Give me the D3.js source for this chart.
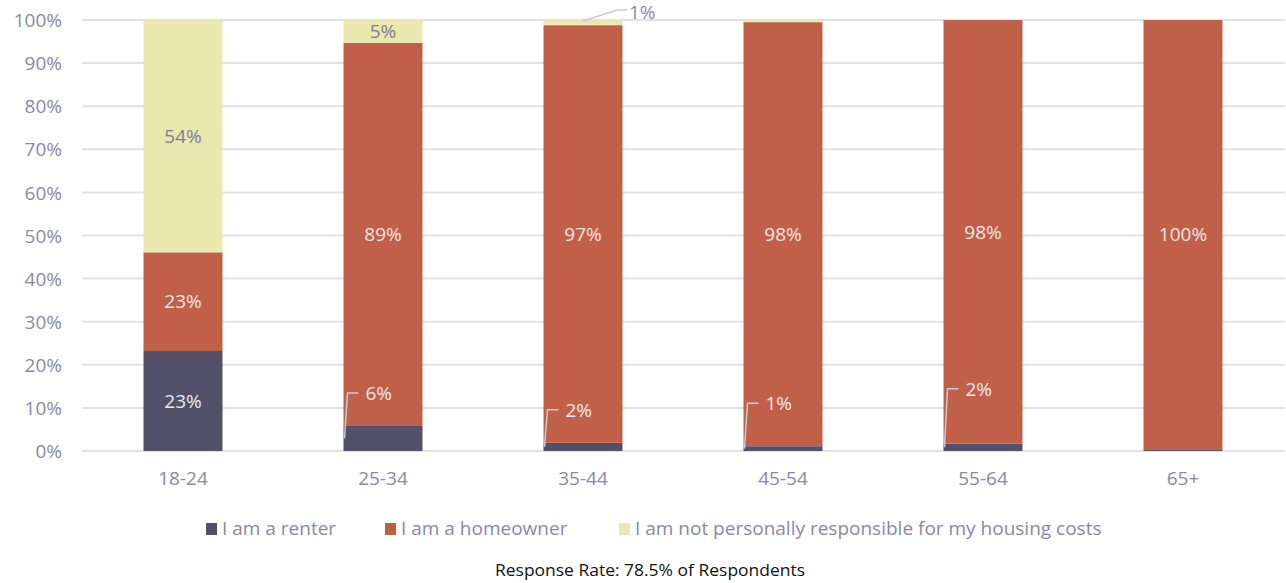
<!DOCTYPE html>
<html>
<head>
<meta charset="utf-8">
<script src="https://cdn.jsdelivr.net/npm/d3@7"></script>
<style>
  html, body { margin: 0; padding: 0; background: #ffffff; }
  svg { display: block; }
  text { font-family: "Open Sans", sans-serif; }
</style>
</head>
<body>
<svg id="chart" width="1286" height="583"></svg>
<script>
// ---- data ----
const categories = ["18-24", "25-34", "35-44", "45-54", "55-64", "65+"];
const seriesNames = ["I am a renter", "I am a homeowner", "I am not personally responsible for my housing costs"];
const renter = [23.2, 5.8, 1.9, 1.1, 1.7, 0.4];
const homeowner = [22.9, 88.9, 96.9, 98.4, 98.3, 99.6];
const notResponsible = [53.9, 5.3, 1.2, 0.5, 0.0, 0.0];
const yTicks = [0, 10, 20, 30, 40, 50, 60, 70, 80, 90, 100];
const footnote = "Response Rate: 78.5% of Respondents";

// ---- style ----
const colors = ["#525169", "#c06048", "#eae8ae"];
const labelColors = ["#e9e8f1", "#f3e6e2", "#7f7c9d"];
const axisColor = "#8a88a8";
const gridColor = "#e2e1ea";
const leaderColor = "#c9c8d6";
// leader-line label offsets (vertical lift above segment top) for small renter segments
const renterLeaderLift = [null, 33, 33, 43, 55, null];

const svg = d3.select("#chart");
const plot = { left: 83, right: 1283, top: 20, bottom: 451 };

const x = d3.scaleBand().domain(categories).range([plot.left, plot.right]).paddingInner(0.605).paddingOuter(0.3025);
const y = d3.scaleLinear().domain([0, 100]).range([plot.bottom, plot.top]);

// gridlines
svg.append("g").selectAll("line").data(yTicks).join("line")
  .attr("x1", plot.left - 1).attr("x2", plot.right + 2)
  .attr("y1", d => y(d)).attr("y2", d => y(d))
  .attr("stroke", gridColor).attr("stroke-width", 2);

// y axis labels
const yAxis = d3.axisLeft(y).tickValues(yTicks).tickFormat(d => d + "%").tickSize(0).tickPadding(0);
const yg = svg.append("g").attr("transform", `translate(${plot.left - 21},0)`).call(yAxis);
yg.select(".domain").remove();
yg.selectAll("text").attr("fill", axisColor).style("font-size", "19px").style("font-family", "Open Sans, sans-serif").attr("dy", "0.35em");

// x axis labels
const xAxis = d3.axisBottom(x).tickSize(0).tickPadding(0);
const xg = svg.append("g").attr("transform", `translate(0,${plot.bottom + 20})`).call(xAxis);
xg.select(".domain").remove();
xg.selectAll("text").attr("fill", axisColor).style("font-size", "19px").style("font-family", "Open Sans, sans-serif").attr("dy", "0.75em");

// stacked data
const rows = categories.map((c, i) => ({ cat: c, s0: renter[i], s1: homeowner[i], s2: notResponsible[i] }));
const stack = d3.stack().keys(["s0", "s1", "s2"]);
const layers = stack(rows);

const bw = x.bandwidth();
layers.forEach((layer, li) => {
  svg.append("g").selectAll("rect").data(layer).join("rect")
    .attr("x", d => x(d.data.cat))
    .attr("y", d => y(d[1]))
    .attr("width", bw)
    .attr("height", d => Math.max(0, y(d[0]) - y(d[1])))
    .attr("fill", colors[li]);
});

// labels
const lg = svg.append("g");
layers.forEach((layer, li) => {
  layer.forEach((d, ci) => {
    const v = d[1] - d[0];
    if (v < 0.8) return;
    const label = Math.round(v) + "%";
    const x0 = x(d.data.cat);
    const yTop = y(d[1]), yBot = y(d[0]);
    const inside = (li === 0) ? v >= 10 : v >= 4;
    if (inside) {
      lg.append("text").attr("x", x0 + bw / 2).attr("y", (yTop + yBot) / 2)
        .attr("text-anchor", "middle").attr("dy", "0.36em")
        .attr("fill", labelColors[li]).style("font-size", "19px").text(label);
    } else if (li === 0) {
      const sy = (yTop + yBot) / 2;
      const ly = yTop - renterLeaderLift[ci];
      lg.append("polyline")
        .attr("points", `${x0 + 1},${sy} ${x0 + 4},${ly} ${x0 + 15},${ly}`)
        .attr("fill", "none").attr("stroke", leaderColor).attr("stroke-width", 1.5);
      lg.append("text").attr("x", x0 + 22).attr("y", ly).attr("dy", "0.36em")
        .attr("fill", "#eeeaf0").style("font-size", "19px").text(label);
    } else if (li === 2) {
      const sy = yTop + 1;
      const cx = x0 + bw / 2;
      const ly = yTop - 10;
      lg.append("polyline")
        .attr("points", `${cx},${sy} ${cx + 34},${ly} ${cx + 44},${ly}`)
        .attr("fill", "none").attr("stroke", leaderColor).attr("stroke-width", 1.5);
      lg.append("text").attr("x", cx + 46).attr("y", ly + 2).attr("dy", "0.36em")
        .attr("fill", axisColor).style("font-size", "19px").text(label);
    }
  });
});

// legend
const legendX = [206, 385, 619];
const leg = svg.append("g");
seriesNames.forEach((n, i) => {
  leg.append("rect").attr("x", legendX[i]).attr("y", 523).attr("width", 11).attr("height", 12).attr("fill", colors[i]);
  leg.append("text").attr("x", legendX[i] + 16).attr("y", 535)
    .attr("fill", axisColor).style("font-size", "19px").text(n);
});

// footnote
svg.append("text").attr("x", 650).attr("y", 576).attr("text-anchor", "middle")
  .attr("fill", "#111").style("font-size", "16px").style("font-family", "Open Sans, sans-serif")
  .attr("textLength", 310).attr("lengthAdjust", "spacingAndGlyphs")
  .text(footnote);
</script>
</body>
</html>
